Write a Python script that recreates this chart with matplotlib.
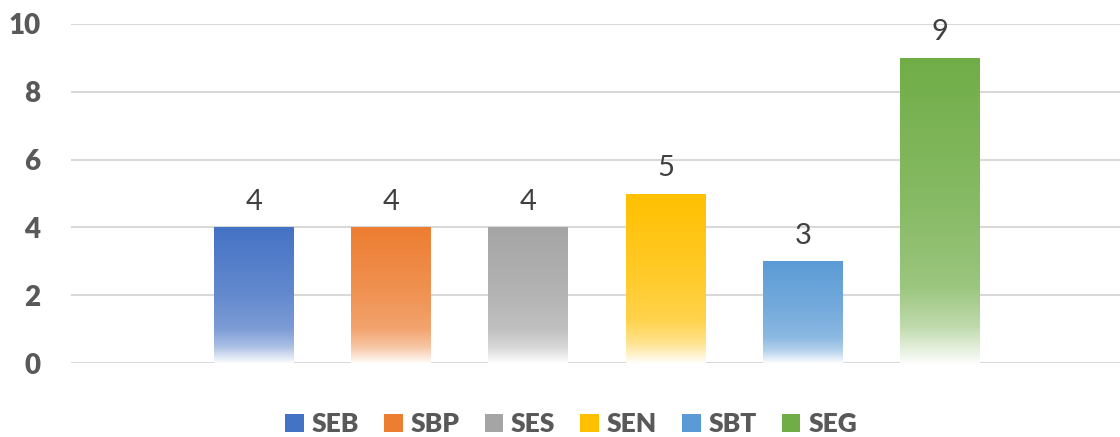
import matplotlib

matplotlib.use("Agg")
import matplotlib.pyplot as plt
from matplotlib.patches import Patch
import numpy as np

CATEGORIES = ["SEB", "SBP", "SES", "SEN", "SBT", "SEG"]
VALUES = [4, 4, 4, 5, 3, 9]
COLORS = ["#4472C4", "#ED7D31", "#A5A5A5", "#FFC000", "#5B9BD5", "#70AD47"]
Y_TICKS = [0, 2, 4, 6, 8, 10]

TEXT_COLOR = "#595959"
LABEL_COLOR = "#404040"
GRID_COLOR = "#D9D9D9"
BAR_WIDTH = 0.58

plt.rcParams["font.family"] = ["Lato", "DejaVu Sans"]


def _gradient_image(color: str) -> np.ndarray:
    rgb = np.array(matplotlib.colors.to_rgb(color))
    t = np.linspace(0.0, 1.0, 256)  # 0 top -> 1 bottom
    white_mix = np.interp(t, [0.0, 0.5, 0.75, 0.88, 1.0], [0.0, 0.17, 0.3, 0.55, 0.97])
    rows = rgb[None, :] * (1 - white_mix[:, None]) + white_mix[:, None]
    return rows[:, None, :]


fig = plt.figure(figsize=(11.2, 4.37), dpi=100)
ax = fig.add_axes([71 / 1120, 1 - 363 / 437, 1 - 71 / 1120, (363 - 24) / 437])

x = np.arange(len(CATEGORIES))
bars = ax.bar(x, VALUES, width=BAR_WIDTH, color="none", edgecolor="none", zorder=3)
for bar, color, value in zip(bars, COLORS, VALUES):
    x0 = bar.get_x()
    img = ax.imshow(
        _gradient_image(color),
        extent=[x0, x0 + bar.get_width(), 0, bar.get_height()],
        aspect="auto",
        origin="upper",
        zorder=3,
        interpolation="bilinear",
    )
    img.set_clip_path(bar)
    ax.annotate(
        f"{value}",
        (bar.get_x() + bar.get_width() / 2, value),
        xytext=(0, 9),
        textcoords="offset points",
        ha="center",
        va="bottom",
        fontsize=21,
        color=LABEL_COLOR,
    )

ax.set_xlim(-1.33, 6.31)
ax.set_ylim(0, 10)
ax.set_yticks(Y_TICKS)
ax.set_xticks([])
ax.tick_params(axis="y", length=0, pad=22, labelsize=20, labelcolor=TEXT_COLOR)
for label in ax.get_yticklabels():
    label.set_fontweight("heavy")
ax.grid(True, axis="y", color=GRID_COLOR, linewidth=1.5, zorder=0)
ax.set_axisbelow(True)
for spine in ax.spines.values():
    spine.set_visible(False)

handles = [Patch(facecolor=c, edgecolor="none") for c in COLORS]
fig.legend(
    handles,
    CATEGORIES,
    loc="center",
    bbox_to_anchor=(0.51, 1 - 424 / 437),
    ncol=len(CATEGORIES),
    frameon=False,
    handlelength=0.7,
    handleheight=0.7,
    handletextpad=0.3,
    columnspacing=0.95,
    prop={"size": 19, "weight": "heavy"},
    labelcolor=TEXT_COLOR,
)

fig.savefig("out.png", dpi=100, facecolor="white")
